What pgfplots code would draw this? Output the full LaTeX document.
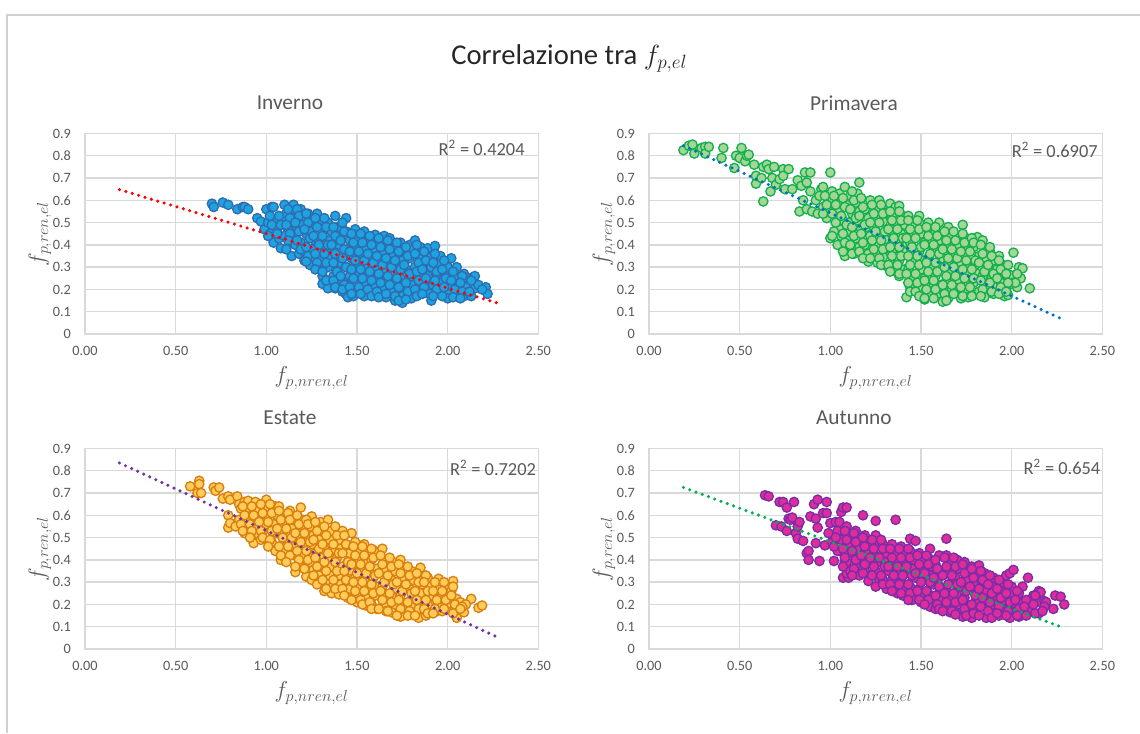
\documentclass[border=0pt]{standalone}
\usepackage{pgfplots}
\pgfplotsset{compat=1.18}
\usepackage{fontspec}
\setmainfont{Carlito}
\definecolor{tx}{HTML}{595959}
\definecolor{gr}{HTML}{D9D9D9}
\definecolor{bd}{HTML}{D0D0D0}
\definecolor{aF}{HTML}{1CA3E0}\definecolor{aE}{HTML}{2E6DB0}
\definecolor{bF}{HTML}{A4D694}\definecolor{bE}{HTML}{14B050}
\definecolor{cF}{HTML}{FFCC5A}\definecolor{cE}{HTML}{D97F0E}
\definecolor{dF}{HTML}{DE2D9B}\definecolor{dE}{HTML}{7B2CA8}
\definecolor{tB}{HTML}{0070C0}\definecolor{tV}{HTML}{7030A0}\definecolor{tG}{HTML}{00B050}
\pgfplotsset{
 geom/.style={scale only axis,width=340pt,height=150.4pt,anchor=south west,
  xmin=0,xmax=2.5,ymin=0,ymax=0.9,clip=false},
 over/.style={geom,hide axis},
 panel/.style={geom,
  xtick={0,0.5,1,1.5,2,2.5},ytick={0,0.1,0.2,0.3,0.4,0.5,0.6,0.7,0.8,0.9},
  yticklabels={0,0.1,0.2,0.3,0.4,0.5,0.6,0.7,0.8,0.9},
  xticklabel style={yshift=-6pt,/pgf/number format/fixed,/pgf/number format/fixed zerofill,/pgf/number format/precision=2,/pgf/number format/assume math mode=true},
  yticklabel style={xshift=-7pt},
  tick style={draw=none},grid=major,
  grid style={gr,line width=1.1pt},axis line style={gr,line width=1.1pt},
  ticklabel style={font=\fontsize{10.7}{12}\selectfont,text=tx},
  xlabel={\fontsize{17}{19}\selectfont $f_{p,nren,el}$},
  ylabel={\fontsize{17}{19}\selectfont $f_{p,ren,el}$},
  xlabel style={text=tx,at={(axis description cs:0.5,0)},anchor=center,yshift=-33pt},
  ylabel style={text=tx,at={(axis description cs:0,0.5)},anchor=center,yshift=33.75pt},
  title style={text=tx,font=\fontsize{16}{18}\selectfont,at={(axis description cs:0.452,1)},anchor=center,yshift=17pt},
 },
 dots/.style={only marks,mark=*,mark size=3.5pt,mark options={fill=#1F,draw=#1E,line width=1pt}},
 trend/.style={#1,line width=2.6pt,line cap=round,dash pattern=on 0pt off 5pt},
}
\newcommand{\rsq}[3]{\node[text=tx,font=\fontsize{13.8}{16}\selectfont] at (rel axis cs:#1,#2) {R\textsuperscript{2} = #3};}
\begin{document}
\begin{tikzpicture}
\useasboundingbox (0,0) rectangle (855pt,549.75pt);
\draw[bd,line width=1.1pt] (5.25pt,0pt)--(5.25pt,538.5pt)--(855pt,538.5pt);
\node[text=black!85,font=\fontsize{21.5}{24}\selectfont] at (427pt,506pt) {Correlazione tra $f_{p,el}$};

\begin{axis}[panel,at={(63.75pt,299.25pt)},title={Inverno}]
\addplot[dots=a] coordinates {
(0.70,0.585)(0.71,0.57)(0.76,0.59)(0.79,0.58)(0.84,0.56)(0.87,0.57)(0.88,0.57)(0.90,0.56)(0.95,0.52)(0.97,0.505)
(0.99,0.47)(1.00,0.56)(1.01,0.50)(1.02,0.45)(1.03,0.57)(1.04,0.57)
(1.04,0.51)(1.06,0.47)(1.04,0.41)(1.07,0.43)(1.05,0.50)(1.08,0.385)
(1.10,0.58)(1.09,0.51)(1.11,0.54)(1.12,0.47)(1.10,0.44)(1.13,0.41)
(1.15,0.58)(1.16,0.55)(1.14,0.52)(1.17,0.48)(1.15,0.44)(1.16,0.40)(1.14,0.35)(1.18,0.36)
(1.19,0.56)(1.21,0.52)(1.20,0.49)(1.22,0.45)(1.19,0.41)(1.21,0.37)(1.21,0.33)
(1.23,0.54)(1.26,0.50)(1.24,0.46)(1.27,0.42)(1.25,0.38)(1.26,0.34)(1.24,0.31)
(1.28,0.54)(1.30,0.51)(1.31,0.46)(1.29,0.42)(1.32,0.38)(1.30,0.34)(1.28,0.30)(1.31,0.26)(1.31,0.225)
(1.34,0.50)(1.36,0.46)(1.35,0.42)(1.33,0.38)(1.36,0.34)(1.34,0.30)(1.37,0.26)(1.35,0.22)(1.34,0.205)
(1.38,0.53)(1.39,0.48)(1.41,0.44)(1.40,0.40)(1.38,0.36)(1.41,0.32)(1.39,0.28)(1.42,0.24)(1.38,0.205)(1.42,0.19)
(1.44,0.52)(1.44,0.46)(1.46,0.42)(1.45,0.38)(1.47,0.34)(1.44,0.30)(1.46,0.26)(1.47,0.22)(1.44,0.18)(1.45,0.165)
(1.49,0.47)(1.51,0.43)(1.50,0.39)(1.52,0.35)(1.49,0.31)(1.51,0.27)(1.50,0.23)(1.52,0.19)(1.48,0.17)
(1.54,0.46)(1.56,0.42)(1.55,0.38)(1.57,0.34)(1.54,0.30)(1.56,0.26)(1.55,0.22)(1.57,0.18)(1.54,0.17)
(1.60,0.445)(1.61,0.41)(1.59,0.37)(1.62,0.33)(1.60,0.29)(1.61,0.25)(1.59,0.21)(1.61,0.17)
(1.65,0.44)(1.66,0.40)(1.64,0.36)(1.67,0.32)(1.65,0.28)(1.66,0.24)(1.64,0.20)(1.66,0.165)
(1.68,0.43)(1.71,0.39)(1.69,0.35)(1.72,0.31)(1.70,0.27)(1.71,0.23)(1.69,0.19)(1.71,0.15)
(1.74,0.41)(1.76,0.37)(1.75,0.33)(1.77,0.29)(1.74,0.25)(1.76,0.21)(1.75,0.17)(1.75,0.14)
(1.79,0.40)(1.82,0.42)(1.81,0.38)(1.79,0.34)(1.82,0.30)(1.80,0.26)(1.81,0.22)(1.79,0.18)(1.80,0.16)
(1.85,0.39)(1.84,0.35)(1.86,0.31)(1.85,0.27)(1.87,0.23)(1.84,0.19)
(1.89,0.385)(1.90,0.34)(1.91,0.30)(1.89,0.26)(1.92,0.22)(1.90,0.18)(1.91,0.15)
(1.93,0.395)(1.96,0.35)(1.95,0.31)(1.94,0.27)(1.96,0.23)(1.95,0.19)
(2.02,0.34)(2.00,0.30)(1.99,0.26)(2.01,0.22)(2.00,0.18)(2.00,0.16)
(2.05,0.30)(2.04,0.26)(2.06,0.22)(2.05,0.18)
(2.09,0.27)(2.11,0.25)(2.10,0.21)(2.09,0.17)
(2.14,0.255)(2.15,0.26)(2.15,0.205)(2.13,0.17)(2.17,0.22)
(2.21,0.21)(2.22,0.18)
(1.02,0.53)(1.03,0.49)(1.01,0.44)(1.07,0.53)(1.08,0.49)(1.06,0.45)
(1.12,0.56)(1.13,0.52)(1.11,0.49)(1.13,0.45)(1.12,0.42)(1.11,0.38)
(1.17,0.56)(1.18,0.53)(1.16,0.50)(1.18,0.46)(1.17,0.42)(1.19,0.38)
(1.22,0.54)(1.23,0.50)(1.21,0.47)(1.24,0.43)(1.22,0.39)(1.23,0.35)(1.22,0.325)
(1.27,0.52)(1.28,0.48)(1.26,0.44)(1.29,0.40)(1.27,0.36)(1.28,0.32)(1.27,0.29)
(1.32,0.52)(1.33,0.48)(1.31,0.44)(1.34,0.40)(1.32,0.36)(1.33,0.32)(1.31,0.28)(1.33,0.24)
(1.37,0.48)(1.38,0.44)(1.36,0.40)(1.38,0.36)(1.37,0.32)(1.39,0.28)(1.37,0.24)(1.38,0.21)
(1.42,0.50)(1.43,0.46)(1.41,0.42)(1.43,0.38)(1.42,0.34)(1.44,0.30)(1.41,0.26)(1.43,0.22)(1.42,0.20)
(1.47,0.45)(1.48,0.41)(1.46,0.37)(1.49,0.33)(1.47,0.29)(1.48,0.25)(1.46,0.21)(1.47,0.18)
(1.52,0.45)(1.53,0.41)(1.51,0.37)(1.54,0.33)(1.52,0.29)(1.53,0.25)(1.51,0.21)(1.52,0.18)
(1.57,0.44)(1.58,0.40)(1.56,0.36)(1.59,0.32)(1.57,0.28)(1.58,0.24)(1.56,0.20)(1.58,0.17)
(1.62,0.43)(1.63,0.39)(1.61,0.35)(1.64,0.31)(1.62,0.27)(1.63,0.23)(1.61,0.19)(1.62,0.165)
(1.67,0.42)(1.68,0.38)(1.66,0.34)(1.69,0.30)(1.67,0.26)(1.68,0.22)(1.66,0.18)
(1.72,0.41)(1.73,0.37)(1.71,0.33)(1.74,0.29)(1.72,0.25)(1.73,0.21)(1.71,0.17)(1.73,0.15)
(1.77,0.39)(1.78,0.35)(1.76,0.31)(1.79,0.27)(1.77,0.23)(1.78,0.19)(1.77,0.155)
(1.83,0.40)(1.82,0.36)(1.84,0.32)(1.83,0.28)(1.84,0.24)(1.82,0.20)(1.83,0.17)
(1.87,0.37)(1.88,0.33)(1.86,0.29)(1.88,0.25)(1.87,0.21)(1.86,0.18)
(1.93,0.36)(1.92,0.32)(1.94,0.28)(1.93,0.24)(1.94,0.20)(1.92,0.17)
(1.98,0.33)(1.97,0.29)(1.99,0.25)(1.98,0.21)(1.97,0.17)
(2.03,0.28)(2.02,0.24)(2.04,0.20)(2.03,0.165)
(2.08,0.26)(2.07,0.23)(2.08,0.19)(2.07,0.16)
(2.13,0.24)(2.12,0.19)(2.19,0.20)
};
\rsq{0.875}{0.928}{0.4204}
\end{axis}
\begin{axis}[over,at={(63.75pt,299.25pt)}]
\addplot[trend=red] coordinates {(0.19,0.648)(2.27,0.14)};
\end{axis}

\begin{axis}[panel,at={(486.75pt,299.25pt)},title={Primavera}]
\addplot[dots=b] coordinates {
(0.19,0.825)(0.22,0.845)(0.24,0.85)(0.25,0.81)(0.29,0.835)(0.31,0.84)(0.31,0.81)(0.33,0.84)(0.40,0.79)(0.41,0.835)
(0.47,0.745)(0.48,0.80)(0.50,0.79)(0.51,0.835)(0.53,0.775)(0.54,0.80)(0.55,0.805)(0.58,0.76)(0.59,0.675)(0.59,0.71)
(0.63,0.595)(0.62,0.70)(0.63,0.75)(0.65,0.76)(0.66,0.74)(0.67,0.64)(0.68,0.70)(0.69,0.75)(0.70,0.67)(0.72,0.695)
(0.74,0.74)(0.74,0.71)(0.77,0.74)(0.75,0.65)(0.79,0.65)(0.82,0.69)(0.83,0.55)(0.84,0.665)(0.85,0.60)(0.86,0.725)
(0.87,0.56)(0.87,0.68)(0.89,0.725)(0.89,0.64)(0.90,0.55)(0.93,0.54)(0.95,0.65)(0.96,0.66)(0.96,0.57)(0.99,0.595)
(0.98,0.52)(1.00,0.725)(0.92,0.60)(0.94,0.62)
(1.01,0.64)(1.00,0.60)(1.02,0.56)(0.99,0.55)(1.00,0.43)
(1.05,0.63)(1.06,0.59)(1.04,0.55)(1.07,0.51)(1.05,0.47)(1.06,0.44)(1.04,0.40)
(1.08,0.66)(1.11,0.62)(1.09,0.58)(1.12,0.54)(1.10,0.50)(1.11,0.46)(1.09,0.42)(1.12,0.38)(1.08,0.35)
(1.16,0.68)(1.15,0.63)(1.14,0.59)(1.16,0.55)(1.15,0.51)(1.17,0.47)(1.14,0.43)(1.16,0.39)(1.13,0.36)
(1.22,0.60)(1.19,0.56)(1.21,0.52)(1.20,0.48)(1.22,0.44)(1.19,0.40)(1.21,0.36)(1.21,0.325)
(1.27,0.60)(1.25,0.56)(1.26,0.52)(1.24,0.48)(1.27,0.44)(1.25,0.40)(1.26,0.36)(1.26,0.32)
(1.33,0.585)(1.31,0.545)(1.29,0.505)(1.32,0.465)(1.30,0.425)(1.33,0.385)(1.29,0.345)(1.31,0.305)
(1.36,0.57)(1.34,0.53)(1.37,0.49)(1.35,0.45)(1.36,0.41)(1.34,0.37)(1.37,0.33)(1.35,0.285)
(1.38,0.575)(1.40,0.53)(1.41,0.49)(1.39,0.45)(1.42,0.41)(1.40,0.37)(1.38,0.33)(1.41,0.29)(1.38,0.26)
(1.43,0.53)(1.46,0.49)(1.45,0.45)(1.44,0.41)(1.47,0.37)(1.45,0.33)(1.43,0.29)(1.46,0.25)(1.44,0.21)(1.42,0.165)
(1.49,0.53)(1.51,0.49)(1.50,0.45)(1.52,0.41)(1.49,0.37)(1.51,0.33)(1.50,0.29)(1.52,0.25)(1.49,0.21)(1.52,0.155)
(1.54,0.50)(1.56,0.46)(1.55,0.42)(1.57,0.38)(1.54,0.34)(1.56,0.30)(1.55,0.26)(1.57,0.22)(1.54,0.18)
(1.60,0.50)(1.58,0.46)(1.61,0.42)(1.59,0.38)(1.62,0.34)(1.60,0.30)(1.58,0.26)(1.61,0.22)(1.59,0.18)(1.62,0.145)
(1.65,0.48)(1.66,0.44)(1.64,0.40)(1.67,0.36)(1.65,0.32)(1.66,0.28)(1.64,0.24)(1.67,0.20)(1.65,0.16)
(1.73,0.49)(1.70,0.44)(1.71,0.40)(1.69,0.36)(1.72,0.32)(1.70,0.28)(1.71,0.24)(1.69,0.20)(1.72,0.16)
(1.75,0.43)(1.76,0.39)(1.74,0.35)(1.77,0.31)(1.75,0.27)(1.76,0.23)(1.74,0.19)(1.76,0.165)
(1.81,0.435)(1.79,0.39)(1.82,0.35)(1.80,0.31)(1.81,0.27)(1.79,0.23)(1.82,0.19)
(1.84,0.42)(1.86,0.38)(1.85,0.34)(1.87,0.30)(1.84,0.26)(1.86,0.22)(1.85,0.165)
(1.88,0.37)(1.90,0.33)(1.92,0.29)(1.89,0.25)(1.91,0.21)(1.90,0.18)
(1.93,0.35)(1.95,0.31)(1.96,0.27)(1.94,0.23)(1.97,0.19)(1.96,0.17)
(2.01,0.365)(1.99,0.265)(2.00,0.225)(1.98,0.175)
(2.04,0.30)(2.06,0.295)(2.05,0.25)(2.03,0.21)(2.02,0.23)
(2.10,0.205)
(0.97,0.62)(0.98,0.58)(0.96,0.54)
(1.02,0.62)(1.03,0.58)(1.01,0.54)(1.03,0.50)(1.02,0.46)(1.01,0.44)
(1.07,0.61)(1.08,0.57)(1.06,0.53)(1.09,0.49)(1.07,0.45)(1.08,0.41)(1.07,0.37)
(1.12,0.64)(1.13,0.60)(1.11,0.56)(1.14,0.52)(1.12,0.48)(1.13,0.44)(1.11,0.40)(1.12,0.36)
(1.17,0.61)(1.18,0.57)(1.16,0.53)(1.19,0.49)(1.17,0.45)(1.18,0.41)(1.16,0.37)(1.18,0.34)
(1.23,0.58)(1.24,0.54)(1.22,0.50)(1.25,0.46)(1.23,0.42)(1.24,0.38)(1.22,0.34)
(1.28,0.58)(1.29,0.54)(1.27,0.50)(1.30,0.46)(1.28,0.42)(1.29,0.38)(1.27,0.34)(1.28,0.31)
(1.33,0.55)(1.34,0.51)(1.32,0.47)(1.35,0.43)(1.33,0.39)(1.34,0.35)(1.32,0.31)(1.33,0.28)
(1.38,0.55)(1.39,0.51)(1.37,0.47)(1.40,0.43)(1.38,0.39)(1.39,0.35)(1.37,0.31)(1.38,0.27)
(1.43,0.51)(1.44,0.47)(1.42,0.43)(1.45,0.39)(1.43,0.35)(1.44,0.31)(1.42,0.27)(1.43,0.23)(1.44,0.19)
(1.48,0.51)(1.49,0.47)(1.47,0.43)(1.50,0.39)(1.48,0.35)(1.49,0.31)(1.47,0.27)(1.48,0.23)(1.47,0.19)(1.49,0.17)
(1.53,0.48)(1.54,0.44)(1.52,0.40)(1.55,0.36)(1.53,0.32)(1.54,0.28)(1.52,0.24)(1.53,0.20)(1.52,0.16)
(1.58,0.48)(1.59,0.44)(1.57,0.40)(1.60,0.36)(1.58,0.32)(1.59,0.28)(1.57,0.24)(1.58,0.20)(1.57,0.16)
(1.63,0.46)(1.64,0.42)(1.62,0.38)(1.65,0.34)(1.63,0.30)(1.64,0.26)(1.62,0.22)(1.63,0.18)(1.64,0.15)
(1.68,0.46)(1.69,0.42)(1.67,0.38)(1.70,0.34)(1.68,0.30)(1.69,0.26)(1.67,0.22)(1.68,0.18)
(1.73,0.45)(1.74,0.41)(1.72,0.37)(1.75,0.33)(1.73,0.29)(1.74,0.25)(1.72,0.21)(1.73,0.17)
(1.78,0.43)(1.79,0.41)(1.77,0.37)(1.80,0.33)(1.78,0.29)(1.79,0.25)(1.77,0.21)(1.78,0.17)
(1.83,0.40)(1.84,0.36)(1.82,0.32)(1.85,0.28)(1.83,0.24)(1.84,0.20)(1.83,0.17)
(1.88,0.39)(1.89,0.35)(1.87,0.31)(1.90,0.27)(1.88,0.23)(1.89,0.19)
(1.93,0.33)(1.94,0.29)(1.92,0.25)(1.94,0.21)(1.93,0.18)
(1.98,0.31)(1.97,0.27)(1.98,0.23)(1.97,0.19)(2.03,0.27)
};
\rsq{0.895}{0.918}{0.6907}
\end{axis}
\begin{axis}[over,at={(486.75pt,299.25pt)}]
\addplot[trend=tB] coordinates {(0.19,0.845)(2.27,0.07)};
\end{axis}

\begin{axis}[panel,at={(63.75pt,63pt)},title={Estate}]
\addplot[dots=c] coordinates {
(0.58,0.73)(0.62,0.70)(0.63,0.755)(0.63,0.74)(0.64,0.70)(0.71,0.725)(0.72,0.71)(0.74,0.725)(0.76,0.675)(0.79,0.685)
(0.79,0.60)(0.79,0.545)(0.80,0.565)(0.80,0.67)
(0.84,0.685)(0.85,0.65)(0.86,0.63)(0.85,0.58)(0.83,0.55)(0.88,0.66)
(0.90,0.665)(0.89,0.63)(0.91,0.59)(0.90,0.55)(0.88,0.52)
(0.94,0.66)(0.95,0.63)(0.96,0.59)(0.94,0.55)(0.96,0.51)(0.93,0.475)
(1.00,0.67)(0.99,0.63)(1.01,0.60)(1.00,0.56)(0.98,0.525)(0.97,0.49)
(1.05,0.64)(1.06,0.60)(1.04,0.56)(1.06,0.52)(1.03,0.48)(1.05,0.44)
(1.07,0.64)(1.10,0.60)(1.11,0.56)(1.09,0.52)(1.12,0.48)(1.10,0.44)(1.08,0.40)
(1.13,0.62)(1.16,0.58)(1.14,0.54)(1.17,0.50)(1.15,0.46)(1.16,0.42)(1.16,0.345)
(1.19,0.635)(1.20,0.58)(1.21,0.54)(1.19,0.50)(1.22,0.46)(1.20,0.42)(1.18,0.385)(1.22,0.325)
(1.25,0.595)(1.24,0.55)(1.26,0.51)(1.25,0.47)(1.27,0.43)(1.24,0.39)(1.26,0.355)(1.25,0.31)
(1.30,0.57)(1.31,0.53)(1.29,0.49)(1.32,0.45)(1.30,0.41)(1.31,0.37)(1.29,0.33)(1.31,0.29)(1.32,0.26)
(1.34,0.58)(1.36,0.53)(1.35,0.49)(1.37,0.45)(1.34,0.41)(1.36,0.37)(1.35,0.33)(1.37,0.29)(1.36,0.25)
(1.42,0.53)(1.40,0.49)(1.41,0.45)(1.39,0.41)(1.42,0.37)(1.40,0.33)(1.41,0.29)(1.40,0.245)
(1.47,0.52)(1.44,0.47)(1.46,0.43)(1.45,0.39)(1.47,0.35)(1.44,0.31)(1.46,0.27)(1.45,0.23)
(1.49,0.48)(1.51,0.44)(1.50,0.40)(1.52,0.36)(1.49,0.32)(1.51,0.28)(1.50,0.24)(1.50,0.21)
(1.54,0.47)(1.56,0.43)(1.55,0.39)(1.57,0.35)(1.54,0.31)(1.56,0.27)(1.55,0.23)(1.55,0.195)
(1.60,0.44)(1.58,0.40)(1.61,0.36)(1.59,0.32)(1.62,0.28)(1.60,0.24)(1.58,0.20)(1.61,0.18)
(1.64,0.45)(1.66,0.40)(1.65,0.36)(1.67,0.32)(1.64,0.28)(1.66,0.24)(1.65,0.20)(1.66,0.17)
(1.70,0.39)(1.71,0.35)(1.69,0.31)(1.72,0.27)(1.70,0.23)(1.71,0.19)(1.69,0.165)
(1.74,0.40)(1.76,0.36)(1.75,0.32)(1.77,0.28)(1.74,0.24)(1.76,0.20)(1.74,0.145)
(1.80,0.35)(1.81,0.31)(1.79,0.27)(1.82,0.23)(1.80,0.19)(1.79,0.155)
(1.85,0.365)(1.84,0.33)(1.86,0.29)(1.85,0.25)(1.87,0.21)(1.84,0.17)(1.84,0.14)
(1.89,0.32)(1.90,0.28)(1.91,0.24)(1.89,0.20)(1.88,0.15)
(1.95,0.315)(1.94,0.27)(1.96,0.23)(1.95,0.19)(1.94,0.17)
(2.00,0.285)(1.99,0.245)(2.01,0.205)(1.97,0.17)
(2.03,0.305)(2.02,0.26)
(2.05,0.225)(2.04,0.18)(2.05,0.14)
(2.07,0.21)(2.09,0.165)(2.13,0.225)(2.10,0.20)
(2.17,0.185)(2.19,0.195)
(0.87,0.64)(0.88,0.60)(0.86,0.56)(0.87,0.53)
(0.92,0.64)(0.93,0.60)(0.91,0.56)(0.92,0.53)(0.91,0.50)
(0.97,0.65)(0.98,0.61)(0.96,0.57)(0.97,0.53)(0.98,0.50)
(1.02,0.65)(1.03,0.61)(1.01,0.57)(1.03,0.53)(1.02,0.49)(1.01,0.46)
(1.07,0.62)(1.08,0.58)(1.06,0.54)(1.09,0.50)(1.07,0.46)(1.08,0.42)
(1.12,0.61)(1.13,0.58)(1.11,0.54)(1.14,0.50)(1.12,0.46)(1.13,0.42)(1.11,0.39)
(1.17,0.60)(1.18,0.56)(1.16,0.52)(1.19,0.48)(1.17,0.44)(1.18,0.40)(1.16,0.37)
(1.22,0.58)(1.23,0.56)(1.21,0.52)(1.24,0.48)(1.22,0.44)(1.23,0.40)(1.21,0.36)
(1.27,0.57)(1.28,0.53)(1.26,0.49)(1.29,0.45)(1.27,0.41)(1.28,0.37)(1.26,0.33)(1.28,0.29)
(1.32,0.55)(1.33,0.51)(1.31,0.47)(1.34,0.43)(1.32,0.39)(1.33,0.35)(1.31,0.31)(1.33,0.27)
(1.38,0.55)(1.39,0.51)(1.37,0.47)(1.40,0.43)(1.38,0.39)(1.39,0.35)(1.37,0.31)(1.38,0.27)
(1.43,0.51)(1.44,0.47)(1.42,0.43)(1.45,0.39)(1.43,0.35)(1.44,0.31)(1.42,0.27)(1.43,0.24)
(1.48,0.46)(1.49,0.42)(1.47,0.38)(1.50,0.34)(1.48,0.30)(1.49,0.26)(1.47,0.22)
(1.53,0.46)(1.54,0.42)(1.52,0.38)(1.55,0.34)(1.53,0.30)(1.54,0.26)(1.52,0.22)(1.53,0.20)
(1.58,0.45)(1.59,0.41)(1.57,0.37)(1.60,0.33)(1.58,0.29)(1.59,0.25)(1.57,0.21)(1.58,0.18)
(1.63,0.42)(1.64,0.38)(1.62,0.34)(1.65,0.30)(1.63,0.26)(1.64,0.22)(1.62,0.18)
(1.68,0.41)(1.69,0.37)(1.67,0.33)(1.70,0.29)(1.68,0.25)(1.69,0.21)(1.67,0.17)
(1.73,0.38)(1.74,0.34)(1.72,0.30)(1.75,0.26)(1.73,0.22)(1.74,0.18)(1.72,0.15)
(1.78,0.37)(1.79,0.33)(1.77,0.29)(1.80,0.25)(1.78,0.21)(1.79,0.17)(1.78,0.15)
(1.83,0.34)(1.84,0.30)(1.82,0.26)(1.83,0.22)(1.84,0.18)(1.82,0.15)
(1.88,0.33)(1.87,0.30)(1.89,0.26)(1.88,0.22)(1.87,0.18)(1.89,0.16)
(1.93,0.30)(1.92,0.26)(1.94,0.22)(1.93,0.18)(1.92,0.16)
(1.98,0.30)(1.97,0.26)(1.99,0.22)(1.98,0.18)
(2.03,0.28)(2.02,0.24)(2.04,0.20)(2.03,0.16)
(2.08,0.19)(2.07,0.18)
};
\rsq{0.90}{0.903}{0.7202}
\end{axis}
\begin{axis}[over,at={(63.75pt,63pt)}]
\addplot[trend=tV] coordinates {(0.19,0.835)(2.27,0.055)};
\end{axis}

\begin{axis}[panel,at={(486.75pt,63pt)},title={Autunno}]
\addplot[dots=d] coordinates {
(0.64,0.69)(0.66,0.685)(0.72,0.66)(0.74,0.66)(0.76,0.635)(0.80,0.66)(0.70,0.555)(0.73,0.55)(0.76,0.53)(0.77,0.585)
(0.78,0.58)(0.79,0.59)(0.81,0.52)(0.82,0.55)(0.83,0.57)(0.82,0.495)(0.85,0.485)(0.87,0.43)(0.88,0.44)(0.88,0.40)
(0.89,0.595)(0.91,0.65)(0.93,0.67)(0.92,0.585)(0.92,0.475)(0.94,0.395)(0.93,0.545)(0.96,0.61)(0.98,0.61)(0.98,0.66)
(0.97,0.465)(1.00,0.565)(1.02,0.395)(1.03,0.57)(1.05,0.44)(1.06,0.615)(1.07,0.635)(1.09,0.635)(1.07,0.32)(1.10,0.32)
(1.09,0.34)(1.08,0.395)(1.18,0.60)(1.25,0.575)(1.36,0.58)(1.44,0.495)(1.47,0.485)(1.55,0.45)(1.64,0.495)
(0.99,0.52)(1.01,0.48)(1.04,0.53)(1.06,0.49)(1.04,0.44)
(1.05,0.57)(1.09,0.55)(1.11,0.51)(1.10,0.47)(1.12,0.43)(1.09,0.39)(1.11,0.35)
(1.14,0.53)(1.16,0.49)(1.15,0.45)(1.17,0.41)(1.14,0.37)(1.16,0.33)
(1.19,0.51)(1.21,0.47)(1.20,0.43)(1.22,0.39)(1.19,0.35)(1.21,0.305)
(1.25,0.51)(1.27,0.47)(1.24,0.43)(1.26,0.39)(1.25,0.35)(1.27,0.31)(1.25,0.28)
(1.29,0.47)(1.31,0.43)(1.30,0.39)(1.32,0.35)(1.29,0.31)(1.31,0.27)
(1.34,0.47)(1.36,0.43)(1.35,0.39)(1.37,0.35)(1.34,0.31)(1.36,0.27)(1.37,0.25)
(1.39,0.46)(1.41,0.42)(1.40,0.38)(1.42,0.34)(1.39,0.30)(1.41,0.26)(1.40,0.24)
(1.44,0.44)(1.46,0.40)(1.45,0.36)(1.47,0.32)(1.44,0.28)(1.46,0.24)(1.45,0.22)
(1.49,0.43)(1.51,0.39)(1.50,0.35)(1.52,0.31)(1.49,0.27)(1.51,0.23)(1.50,0.21)
(1.54,0.41)(1.56,0.37)(1.55,0.33)(1.57,0.29)(1.54,0.25)(1.56,0.21)(1.55,0.19)
(1.60,0.42)(1.58,0.38)(1.61,0.34)(1.59,0.30)(1.62,0.26)(1.60,0.22)(1.58,0.18)
(1.64,0.42)(1.66,0.38)(1.65,0.34)(1.67,0.30)(1.64,0.26)(1.66,0.22)(1.65,0.18)(1.66,0.165)
(1.70,0.40)(1.71,0.36)(1.69,0.32)(1.72,0.28)(1.70,0.24)(1.71,0.20)(1.69,0.16)
(1.74,0.39)(1.76,0.35)(1.75,0.31)(1.77,0.27)(1.74,0.23)(1.76,0.19)(1.73,0.145)
(1.78,0.37)(1.82,0.375)(1.81,0.33)(1.79,0.29)(1.82,0.25)(1.80,0.21)(1.79,0.17)(1.78,0.14)
(1.85,0.34)(1.84,0.30)(1.86,0.26)(1.85,0.22)(1.87,0.18)(1.86,0.14)
(1.90,0.32)(1.89,0.28)(1.91,0.24)(1.90,0.20)(1.92,0.16)
(1.95,0.30)(1.94,0.26)(1.96,0.22)(1.95,0.18)(1.93,0.15)
(1.97,0.33)(1.99,0.34)(2.01,0.355)
(2.00,0.28)(1.99,0.245)(2.01,0.205)(2.00,0.165)(1.99,0.14)
(2.06,0.28)(2.04,0.25)(2.06,0.21)(2.05,0.17)(2.04,0.145)(2.09,0.32)
(2.12,0.24)(2.10,0.21)(2.11,0.17)
(2.15,0.26)(2.16,0.255)(2.16,0.21)(2.15,0.16)(2.18,0.215)
(2.19,0.21)(2.23,0.18)(2.24,0.24)(2.27,0.235)(2.29,0.20)
(1.03,0.50)(1.02,0.46)(1.08,0.53)(1.09,0.49)(1.07,0.45)(1.08,0.41)(1.07,0.37)
(1.13,0.52)(1.14,0.48)(1.12,0.44)(1.14,0.40)(1.13,0.36)(1.12,0.33)
(1.18,0.50)(1.19,0.46)(1.17,0.42)(1.19,0.38)(1.18,0.34)
(1.23,0.49)(1.24,0.45)(1.22,0.41)(1.24,0.37)(1.23,0.33)
(1.28,0.49)(1.29,0.45)(1.27,0.41)(1.30,0.37)(1.28,0.33)(1.29,0.29)
(1.33,0.45)(1.34,0.41)(1.32,0.37)(1.35,0.33)(1.33,0.29)(1.34,0.26)
(1.38,0.45)(1.39,0.41)(1.37,0.37)(1.40,0.33)(1.38,0.29)(1.39,0.25)
(1.43,0.45)(1.44,0.41)(1.42,0.37)(1.45,0.33)(1.43,0.29)(1.44,0.25)(1.43,0.22)
(1.48,0.42)(1.49,0.38)(1.47,0.34)(1.50,0.30)(1.48,0.26)(1.49,0.22)
(1.53,0.42)(1.54,0.38)(1.52,0.34)(1.55,0.30)(1.53,0.26)(1.54,0.22)(1.52,0.20)
(1.58,0.40)(1.59,0.36)(1.57,0.32)(1.60,0.28)(1.58,0.24)(1.59,0.20)(1.60,0.18)
(1.63,0.41)(1.64,0.37)(1.62,0.33)(1.65,0.29)(1.63,0.25)(1.64,0.21)(1.62,0.17)
(1.68,0.41)(1.69,0.37)(1.67,0.33)(1.70,0.29)(1.68,0.25)(1.69,0.21)(1.67,0.17)(1.69,0.155)
(1.73,0.38)(1.74,0.34)(1.72,0.30)(1.75,0.26)(1.73,0.22)(1.74,0.18)(1.75,0.15)
(1.78,0.36)(1.79,0.32)(1.77,0.28)(1.80,0.24)(1.78,0.20)(1.79,0.16)
(1.83,0.35)(1.84,0.31)(1.82,0.27)(1.84,0.23)(1.83,0.19)(1.82,0.15)
(1.88,0.33)(1.87,0.29)(1.89,0.25)(1.88,0.21)(1.87,0.17)(1.89,0.14)
(1.93,0.31)(1.92,0.27)(1.94,0.23)(1.93,0.19)(1.92,0.16)
(1.98,0.29)(1.97,0.25)(1.99,0.21)(1.98,0.17)(1.97,0.15)
(2.03,0.26)(2.02,0.22)(2.04,0.18)(2.03,0.15)
(2.08,0.22)(2.07,0.19)(2.08,0.15)
(2.13,0.24)(2.12,0.20)(2.13,0.16)
(2.18,0.19)(2.17,0.17)
};
\rsq{0.911}{0.908}{0.654}
\end{axis}
\begin{axis}[over,at={(486.75pt,63pt)}]
\addplot[trend=tG] coordinates {(0.19,0.725)(2.27,0.1)};
\end{axis}
\end{tikzpicture}
\end{document}
